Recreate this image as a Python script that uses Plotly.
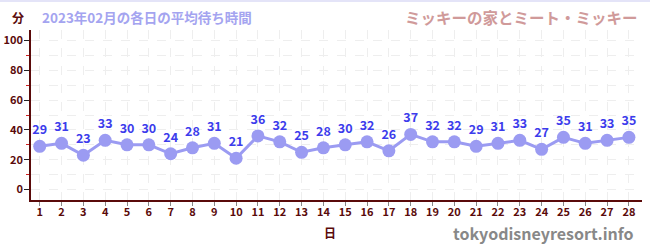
import plotly.graph_objects as go

days = list(range(1, 29))
day_labels = [str(d) for d in days]
wait_times = [29, 31, 23, 33, 30, 30, 24, 28, 31, 21, 36, 32, 25, 28, 30, 32, 26, 37,
              32, 32, 29, 31, 33, 27, 35, 31, 33, 35]
y_ticks = [0, 20, 40, 60, 80, 100]
bands = [(20, 40), (60, 80)]

axis_col = "#5a0a0a"
font = "Noto Sans CJK JP"

fig = go.Figure()
fig.add_trace(go.Scatter(
    x=days, y=wait_times, mode="lines+markers+text",
    line=dict(color="#9b9bf2", width=3),
    marker=dict(color="#9b9bf2", size=13),
    text=[str(v) for v in wait_times], textposition="top center",
    textfont=dict(color="#3c3cec", size=12.5, family=font, weight="bold"),
    cliponaxis=False, hoverinfo="skip"))

for lo, hi in bands:
    fig.add_hrect(y0=lo, y1=hi, fillcolor="#f6f6f6", line_width=0, layer="below")

fig.update_layout(
    width=650, height=250, margin=dict(l=31, r=8, t=30, b=50),
    plot_bgcolor="white", paper_bgcolor="white", showlegend=False,
    font=dict(family=font, color=axis_col),
    xaxis=dict(range=[0.6, 28.6], tickvals=days, ticktext=day_labels, automargin=False,
               showline=True, linecolor=axis_col, linewidth=1.5,
               ticks="outside", ticklen=4, tickcolor="#888", ticklabelstandoff=-3,
               tickfont=dict(size=11, color=axis_col, weight="bold"),
               showgrid=True, gridcolor="#eeeeee", griddash="dash", zeroline=False),
    yaxis=dict(range=[-7, 107], tickvals=y_ticks, automargin=False,
               showline=True, linecolor=axis_col, linewidth=1.5,
               ticks="outside", ticklen=5, tickcolor="#222", ticklabelstandoff=-1,
               tickfont=dict(size=11, color=axis_col, weight="bold"),
               minor=dict(dtick=10, ticks="outside", ticklen=3, tickcolor="#d02020",
                          showgrid=True, gridcolor="#eeeeee", griddash="dash"),
               showgrid=True, gridcolor="#eeeeee", griddash="dash", zeroline=False),
    shapes=[dict(type="line", xref="paper", yref="paper", x0=-0.1, x1=1.1, y0=1.17, y1=1.17,
                 line=dict(color="#e4e4f8", width=2))],
)

fig.add_annotation(text="分", xref="paper", yref="paper", x=-0.022, y=1.076, xanchor="center",
                   yanchor="middle", showarrow=False,
                   font=dict(size=12, color=axis_col, weight="bold"))
fig.add_annotation(text="2023年02月の各日の平均待ち時間", xref="paper", yref="paper", x=0.014, y=1.076,
                   xanchor="left", yanchor="middle", showarrow=False,
                   font=dict(size=13.5, color="#a4a4f0", weight="bold"))
fig.add_annotation(text="ミッキーの家とミート・ミッキー", xref="paper", yref="paper", x=0.997, y=1.076,
                   xanchor="right", yanchor="middle", showarrow=False,
                   font=dict(size=15.5, color="#d09a9a", weight="bold"))
fig.add_annotation(text="日", xref="paper", yref="paper", x=0.489, y=-0.19,
                   xanchor="center", yanchor="middle", showarrow=False,
                   font=dict(size=12, color=axis_col, weight="bold"))
fig.add_annotation(text="tokyodisneyresort.info", xref="paper", yref="paper", x=0.99, y=-0.195,
                   xanchor="right", yanchor="middle", showarrow=False,
                   font=dict(size=16, color="#888888", weight="bold"))

fig.write_html("out.html")
